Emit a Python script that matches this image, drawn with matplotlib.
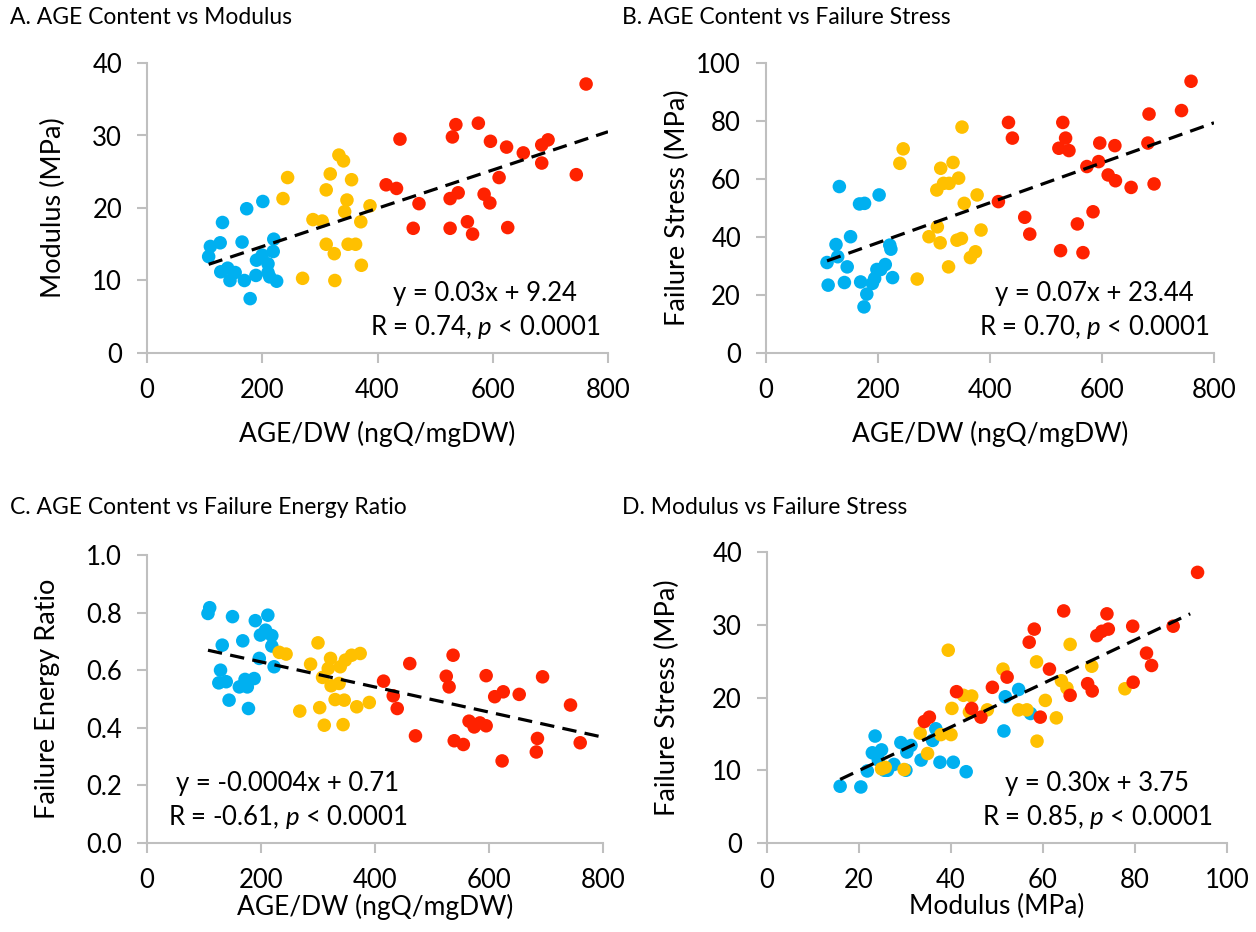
import numpy as np
import matplotlib
matplotlib.use("Agg")
import matplotlib.pyplot as plt

plt.rcParams['font.family'] = ['Lato', 'DejaVu Sans']
plt.rcParams['mathtext.fontset'] = 'custom'
plt.rcParams['mathtext.it'] = 'Lato:italic'
plt.rcParams['mathtext.rm'] = 'Lato'

BLUE = "#00B0F0"
ORANGE = "#FFC000"
RED = "#FF2200"
GRAY = "#BFBFBF"

# A. AGE content vs modulus
a_blue_x = [110, 107, 127, 131, 128, 140, 144, 153, 165, 173, 169, 179, 189, 201, 190, 200, 210, 219, 220, 210, 213, 225]
a_blue_y = [14.7, 13.3, 15.2, 18.0, 11.2, 11.7, 10.0, 11.1, 15.3, 19.9, 10.0, 7.5, 10.7, 20.9, 12.8, 13.5, 12.3, 14.0, 15.7, 11.1, 10.5, 9.9]
a_orange_x = [244, 236, 270, 288, 304, 311, 318, 311, 325, 326, 333, 341, 355, 347, 343, 349, 362, 371, 372, 387]
a_orange_y = [24.2, 21.3, 10.3, 18.4, 18.2, 22.5, 24.7, 15.0, 13.7, 10.0, 27.3, 26.5, 23.9, 21.1, 19.5, 15.0, 15.0, 18.1, 12.1, 20.3]
a_red_x = [762, 439, 536, 530, 575, 596, 624, 653, 685, 696, 685, 745, 611, 415, 433, 472, 526, 540, 585, 595, 462, 526, 556, 565, 626]
a_red_y = [37.1, 29.5, 31.5, 29.8, 31.7, 29.2, 28.4, 27.6, 28.7, 29.4, 26.2, 24.6, 24.2, 23.2, 22.7, 20.6, 21.3, 22.1, 21.9, 20.7, 17.2, 17.2, 18.1, 16.4, 17.3]

# B. AGE content vs failure stress
b_blue_x = [131, 109, 111, 125, 128, 151, 145, 140, 169, 167, 176, 202, 180, 175, 190, 194, 198, 213, 205, 221, 223, 226]
b_blue_y = [57.4, 31.2, 23.4, 37.4, 33.2, 40.1, 29.7, 24.3, 24.5, 51.4, 51.6, 54.5, 20.3, 15.9, 24.0, 25.7, 28.8, 30.5, 28.8, 37.2, 35.8, 26.0]
b_orange_x = [245, 239, 270, 291, 306, 311, 305, 312, 317, 327, 326, 334, 344, 350, 354, 341, 349, 365, 374, 377, 384]
b_orange_y = [70.4, 65.4, 25.5, 40.1, 43.5, 38.0, 56.2, 63.7, 58.5, 58.5, 29.7, 65.7, 60.3, 77.9, 51.6, 38.9, 39.5, 32.9, 34.9, 54.5, 42.4]
b_red_x = [759, 742, 684, 682, 433, 440, 530, 535, 523, 541, 596, 623, 594, 573, 611, 624, 652, 693, 415, 462, 471, 584, 556, 526, 566]
b_red_y = [93.7, 83.6, 82.4, 72.4, 79.5, 74.1, 79.5, 74.1, 70.6, 69.8, 72.4, 71.5, 66.0, 64.3, 61.4, 59.4, 57.1, 58.3, 52.2, 46.8, 41.0, 48.7, 44.5, 35.3, 34.6]

# C. AGE content vs failure energy ratio
c_blue_x = [110, 107, 150, 132, 168, 190, 212, 208, 199, 219, 219, 197, 223, 129, 126, 139, 144, 162, 172, 176, 188, 178]
c_blue_y = [0.817, 0.797, 0.786, 0.687, 0.702, 0.772, 0.791, 0.739, 0.722, 0.720, 0.684, 0.641, 0.612, 0.600, 0.556, 0.560, 0.496, 0.542, 0.568, 0.542, 0.571, 0.467]
c_orange_x = [232, 244, 268, 287, 300, 303, 311, 322, 318, 308, 323, 337, 330, 346, 344, 339, 348, 359, 368, 374, 390]
c_orange_y = [0.662, 0.656, 0.458, 0.621, 0.695, 0.470, 0.409, 0.641, 0.606, 0.575, 0.546, 0.554, 0.498, 0.496, 0.411, 0.612, 0.635, 0.652, 0.473, 0.658, 0.488]
c_red_x = [461, 537, 415, 432, 439, 471, 525, 530, 595, 694, 610, 625, 653, 743, 565, 574, 584, 595, 539, 555, 685, 683, 760, 623]
c_red_y = [0.623, 0.652, 0.562, 0.511, 0.467, 0.372, 0.579, 0.542, 0.581, 0.577, 0.508, 0.525, 0.516, 0.479, 0.423, 0.403, 0.417, 0.407, 0.355, 0.342, 0.363, 0.316, 0.348, 0.285]

# D. Modulus vs failure stress
d_blue_x = [15.9, 20.4, 21.8, 23.5, 22.9, 24.9, 24.2, 25.5, 26.2, 27.6, 29.1, 30.4, 31.3, 30.2, 33.5, 36.7, 36.0, 37.6, 40.5, 43.3, 54.7, 51.8, 51.5, 57.3]
d_blue_y = [7.8, 7.7, 9.9, 14.7, 12.4, 12.8, 11.4, 10.0, 10.0, 10.8, 13.8, 12.5, 13.4, 10.0, 11.4, 15.7, 14.1, 11.1, 11.1, 9.8, 21.1, 20.1, 15.4, 17.8]
d_orange_x = [39.4, 40.2, 40.0, 37.8, 33.3, 34.9, 24.9, 25.7, 29.8, 42.7, 44.5, 44.0, 65.9, 58.6, 51.3, 70.6, 64.0, 65.2, 77.8, 60.5, 54.7, 56.5, 47.9, 62.9, 58.7]
d_orange_y = [26.5, 18.5, 14.9, 14.9, 15.1, 12.3, 10.2, 10.4, 10.1, 20.3, 20.2, 18.0, 27.3, 24.9, 23.9, 24.3, 22.3, 21.3, 21.2, 19.6, 18.3, 18.3, 18.3, 17.2, 14.0]
d_red_x = [41.2, 34.2, 35.3, 44.5, 46.5, 93.6, 64.5, 73.9, 58.1, 57.0, 71.7, 72.8, 74.2, 79.5, 88.3, 82.5, 83.6, 61.4, 52.2, 49.0, 69.7, 70.7, 65.9, 79.6, 59.4]
d_red_y = [20.8, 16.7, 17.3, 18.5, 17.3, 37.2, 31.9, 31.5, 29.4, 27.6, 28.5, 29.1, 29.4, 29.8, 29.8, 26.1, 24.4, 23.9, 22.8, 21.4, 21.9, 20.9, 20.3, 22.1, 17.3]


def panel(fig, rect, groups, xlim, ylim, xticks, yticks, xlabel, ylabel,
          eq1, eq2, text_x, line_end, xlab_y, ylab_x, yfmt=None):
    ax = fig.add_axes(rect)
    allx = []
    ally = []
    for gx, gy, col in groups:
        ax.scatter(gx, gy, s=95, color=col, edgecolors='none', zorder=2, clip_on=False)
        allx += gx
        ally += gy
    # least squares trend line
    k, b = np.polyfit(allx, ally, 1)
    xs = np.array([min(allx), line_end])
    ax.plot(xs, k * xs + b, color='black', lw=2.3, linestyle=(0, (4.5, 2.6)), zorder=3)

    ax.set_xlim(xlim)
    ax.set_ylim(ylim)
    ax.set_xticks(xticks)
    ax.set_yticks(yticks)
    if yfmt:
        ax.set_yticklabels([yfmt % v for v in yticks])
    for s in ['top', 'right']:
        ax.spines[s].set_visible(False)
    for s in ['left', 'bottom']:
        ax.spines[s].set_color(GRAY)
        ax.spines[s].set_linewidth(1.5)
    ax.tick_params(direction='out', length=7, width=1.5, color=GRAY,
                   labelsize=18.5, labelcolor='black')
    ax.tick_params(axis='x', pad=11)
    ax.tick_params(axis='y', pad=11)
    ax.set_xlabel(xlabel, fontsize=19)
    ax.set_ylabel(ylabel, fontsize=19.5)
    ax.xaxis.set_label_coords(0.5, xlab_y)
    ax.yaxis.set_label_coords(ylab_x, 0.5)
    ax.text(text_x, 0.205, eq1, transform=ax.transAxes, ha='center', va='center', fontsize=18.5)
    ax.text(text_x, 0.09, eq2, transform=ax.transAxes, ha='center', va='center', fontsize=18.5)
    return ax


fig = plt.figure(figsize=(12.56, 9.32), dpi=100)

W, H = 1256.0, 932.0

panel(fig, [147 / W, 1 - 353 / H, 461 / W, 290 / H],
      [(a_blue_x, a_blue_y, BLUE), (a_orange_x, a_orange_y, ORANGE), (a_red_x, a_red_y, RED)],
      (0, 800), (0, 40), [0, 200, 400, 600, 800], [0, 10, 20, 30, 40],
      "AGE/DW (ngQ/mgDW)", "Modulus (MPa)",
      "y = 0.03x + 9.24", "R = 0.74, $\\it{p}$ < 0.0001", 0.733, 800, -0.235, -0.176)

panel(fig, [766 / W, 1 - 353 / H, 448 / W, 290 / H],
      [(b_blue_x, b_blue_y, BLUE), (b_orange_x, b_orange_y, ORANGE), (b_red_x, b_red_y, RED)],
      (0, 800), (0, 100), [0, 200, 400, 600, 800], [0, 20, 40, 60, 80, 100],
      "AGE/DW (ngQ/mgDW)", "Failure Stress (MPa)",
      "y = 0.07x + 23.44", "R = 0.70, $\\it{p}$ < 0.0001", 0.732, 800, -0.235, -0.17)

panel(fig, [147 / W, 1 - 843 / H, 456 / W, 288 / H],
      [(c_blue_x, c_blue_y, BLUE), (c_orange_x, c_orange_y, ORANGE), (c_red_x, c_red_y, RED)],
      (0, 800), (0, 1.0), [0, 200, 400, 600, 800], [0.0, 0.2, 0.4, 0.6, 0.8, 1.0],
      "AGE/DW (ngQ/mgDW)", "Failure Energy Ratio",
      "y = -0.0004x + 0.71", "R = -0.61, $\\it{p}$ < 0.0001", 0.308, 800, -0.175, -0.19, yfmt="%.1f")

panel(fig, [767 / W, 1 - 843 / H, 460 / W, 291 / H],
      [(d_blue_x, d_blue_y, BLUE), (d_orange_x, d_orange_y, ORANGE), (d_red_x, d_red_y, RED)],
      (0, 100), (0, 40), [0, 20, 40, 60, 80, 100], [0, 10, 20, 30, 40],
      "Modulus (MPa)", "Failure Stress (MPa)",
      "y = 0.30x + 3.75", "R = 0.85, $\\it{p}$ < 0.0001", 0.718, 92, -0.175, -0.19)

fig.text(10 / W, 1 - 18 / H, "A. AGE Content vs Modulus", fontsize=16.5, va='center', ha='left')
fig.text(622 / W, 1 - 18 / H, "B. AGE Content vs Failure Stress", fontsize=16.5, va='center', ha='left')
fig.text(10 / W, 1 - 508 / H, "C. AGE Content vs Failure Energy Ratio", fontsize=16.5, va='center', ha='left')
fig.text(622 / W, 1 - 508 / H, "D. Modulus vs Failure Stress", fontsize=16.5, va='center', ha='left')

fig.savefig("out.png", dpi=100, facecolor='white')
